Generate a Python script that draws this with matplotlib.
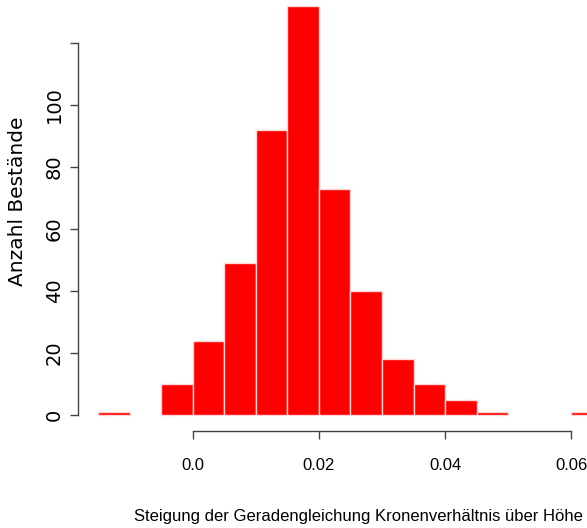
import numpy as np
import matplotlib
matplotlib.use("Agg")
import matplotlib.pyplot as plt

plt.rcParams['font.family'] = ['Liberation Sans', 'DejaVu Sans']

# histogram of slopes, bin width 0.005
bin_edges = np.arange(-0.015, 0.0651, 0.005)
counts = [1, 0, 10, 24, 49, 92, 132, 73, 40, 18, 10, 5, 1, 0, 0, 1]
xticks = [0.0, 0.02, 0.04, 0.06]
xticklabels = ["0.0", "0.02", "0.04", "0.06"]
yticks = [0, 20, 40, 60, 80, 100, 120]
yticklabels = ["0", "20", "40", "60", "80", "100", ""]

wide = ['DejaVu Sans']

fig = plt.figure(figsize=(5.87, 5.28), dpi=100)
# R-style plot region: data range padded by 4 %, runs past the right/top edge
ax = fig.add_axes([0.1334, 0.1830, 0.9274, 0.8371])

lefts = bin_edges[:-1]
width = np.diff(bin_edges)
for x0, w, c in zip(lefts, width, counts):
    if c > 0:
        ax.bar(x0, c, width=w, align='edge', color='#ff0000',
               edgecolor='#ffd6d6', linewidth=1.0)

xr = bin_edges[-1] - bin_edges[0]
ax.set_xlim(bin_edges[0] - 0.04 * xr, bin_edges[-1] + 0.04 * xr)
ym = max(counts)
ax.set_ylim(-0.04 * ym, ym * 1.04)

for s in ['top', 'right']:
    ax.spines[s].set_visible(False)
ax.spines['left'].set_bounds(0, 120)
ax.spines['bottom'].set_bounds(0, 0.06)
for s in ['left', 'bottom']:
    ax.spines[s].set_color('#444444')
    ax.spines[s].set_linewidth(1.0)

ax.set_xticks(xticks)
ax.set_xticklabels(xticklabels, fontsize=12)
ax.set_yticks(yticks)
ax.set_yticklabels(yticklabels, rotation=90, va='center', family=wide,
                   fontsize=14)
ax.tick_params(axis='both', direction='out', length=5.5, width=1.0,
               color='#444444')
ax.tick_params(axis='x', pad=14)
ax.tick_params(axis='y', pad=5)

fig.text(0.030, 0.619, "Anzahl Bestände", rotation=90, ha='center',
         va='center', family=wide, fontsize=14.5)
fig.text(0.61, 0.021, "Steigung der Geradengleichung Kronenverhältnis über Höhe",
         ha='center', va='center', fontsize=12)

fig.savefig("out.png", dpi=100)
